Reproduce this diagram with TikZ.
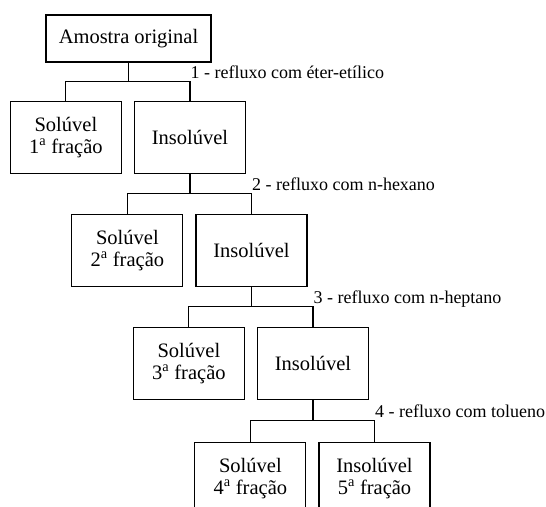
\documentclass[tikz,border=0pt]{standalone}
\usepackage{fontspec}
\setmainfont{Liberation Serif}
\usepackage{tikz}
\usetikzlibrary{calc, positioning}

\begin{document}
\begin{tikzpicture}[
		x=1pt, y=1pt,
		node distance=12pt,
		line width=1.1pt,
		caixa/.style={draw, rectangle, minimum width=111pt, minimum height=72pt, inner sep=0pt, align=center, font=\fontsize{20.5}{22}\selectfont},
		rotulo/.style={anchor=base west, inner sep=0pt, yshift=3pt, font=\fontsize{18}{20}\selectfont}
	]
	\useasboundingbox (-128.5,38.5) rectangle (417.5,-467.5);

	\node[caixa, minimum width=165pt, minimum height=47pt] (amostra) at (0,0) {Amostra original};
	\node[caixa, below=38pt of amostra, xshift=61.5pt] (ins1) {Insolúvel};
	\node[caixa, left=of ins1] (sol1) {Solúvel\\1\textsuperscript{a} fração};
	\node[caixa, below=40pt of ins1, xshift=61.5pt] (ins2) {Insolúvel};
	\node[caixa, left=of ins2] (sol2) {Solúvel\\2\textsuperscript{a} fração};
	\node[caixa, below=40pt of ins2, xshift=61.5pt] (ins3) {Insolúvel};
	\node[caixa, left=of ins3] (sol3) {Solúvel\\3\textsuperscript{a} fração};
	\node[caixa, below=42pt of ins3, xshift=61.5pt] (ins4) {Insolúvel\\5\textsuperscript{a} fração};
	\node[caixa, left=of ins4] (sol4) {Solúvel\\4\textsuperscript{a} fração};

	% ramificacoes
	\coordinate (h1) at ($(amostra.south)!0.5!(amostra.south |- ins1.north)$);
	\coordinate (h2) at ($(ins1.south)!0.5!(ins1.south |- ins2.north)$);
	\coordinate (h3) at ($(ins2.south)!0.5!(ins2.south |- ins3.north)$);
	\coordinate (h4) at ($(ins3.south)!0.5!(ins3.south |- ins4.north)$);

	\draw (amostra.south) -- (h1);
	\draw (sol1.north) |- (h1) -| (ins1.north);
	\draw (ins1.south) -- (h2);
	\draw (sol2.north) |- (h2) -| (ins2.north);
	\draw (ins2.south) -- (h3);
	\draw (sol3.north) |- (h3) -| (ins3.north);
	\draw (ins3.south) -- (h4);
	\draw (sol4.north) |- (h4) -| (ins4.north);

	\node[rotulo] (ref1) at (ins1.north |- h1) {1 - refluxo com éter-etílico};
	\node[rotulo] (ref2) at (ins2.north |- h2) {2 - refluxo com n-hexano};
	\node[rotulo] (ref3) at (ins3.north |- h3) {3 - refluxo com n-heptano};
	\node[rotulo] (ref4) at (ins4.north |- h4) {4 - refluxo com tolueno};
\end{tikzpicture}
\end{document}
